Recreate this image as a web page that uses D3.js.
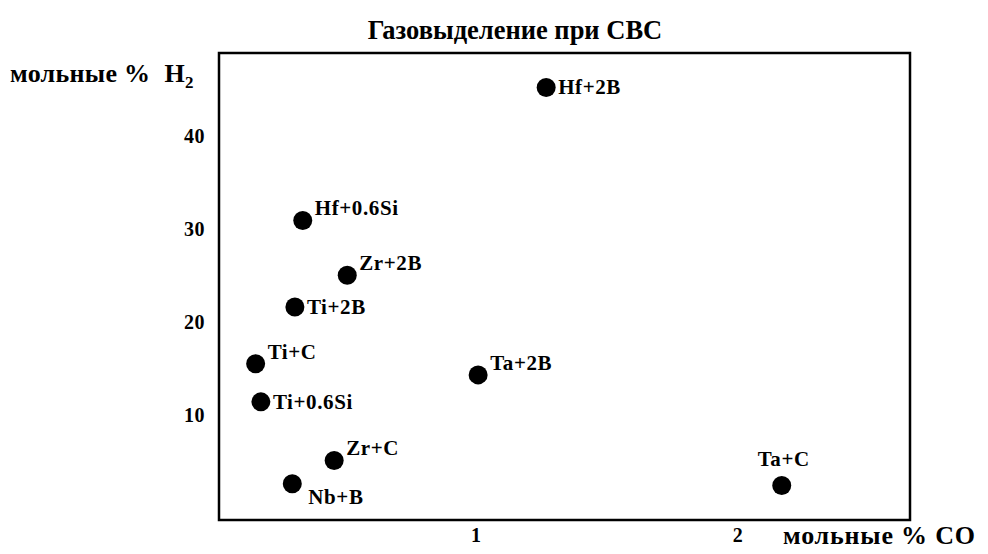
<!DOCTYPE html>
<html>
<head>
<meta charset="utf-8">
<script src="https://cdn.jsdelivr.net/npm/d3@7"></script>
<style>
  body { margin: 0; background: #fff; }
  text { font-family: "Liberation Serif", "Times New Roman", serif; font-weight: bold; fill: #000; }
</style>
</head>
<body>
<div id="chart"></div>
<script>
// data
var systems = ["Hf+2B", "Hf+0.6Si", "Zr+2B", "Ti+2B", "Ti+C", "Ta+2B", "Ti+0.6Si", "Zr+C", "Nb+B", "Ta+C"];
var coValues = [1.27, 0.34, 0.51, 0.31, 0.16, 1.01, 0.18, 0.46, 0.30, 2.17];
var h2Values = [45.2, 30.9, 25.0, 21.6, 15.5, 14.3, 11.4, 5.1, 2.6, 2.4];
// where the label sits relative to its dot
var labelSide = ["e", "ne", "ne", "e", "ne", "ne", "e", "ne", "se", "n"];
var xTicks = [1, 2];
var yTicks = [10, 20, 30, 40];

var width = 988, height = 554;
var margin = { top: 53, right: 78, bottom: 34, left: 219 };

var svg = d3.select("#chart").append("svg")
  .attr("width", width)
  .attr("height", height);

var xScale = d3.scaleLinear()
  .domain([0.02, 2.66])
  .range([margin.left, width - margin.right]);

var yScale = d3.scaleLinear()
  .domain([-1.3, 48.9])
  .range([height - margin.bottom, margin.top]);

var points = systems.map(function(s, i) {
  return { name: s, co: coValues[i], h2: h2Values[i], side: labelSide[i] };
});

// title
svg.append("text")
  .attr("x", 515)
  .attr("y", 39)
  .attr("text-anchor", "middle")
  .attr("font-size", "26.5px")
  .text("Газовыделение при СВС");

// frame
svg.append("rect")
  .attr("x", margin.left)
  .attr("y", margin.top)
  .attr("width", width - margin.left - margin.right)
  .attr("height", height - margin.top - margin.bottom)
  .attr("fill", "none")
  .attr("stroke", "#000")
  .attr("stroke-width", 2.5);

// axes (labels only, no tick marks)
var yAxis = svg.append("g")
  .attr("transform", "translate(" + (margin.left - 14) + ",0)")
  .call(d3.axisLeft(yScale).tickValues(yTicks).tickSize(0).tickPadding(0));
yAxis.select(".domain").remove();
yAxis.selectAll("text")
  .attr("font-size", "20px")
  .attr("letter-spacing", "0.5px")
  .attr("font-family", "Liberation Serif, serif")
  .attr("font-weight", "bold");

var xAxis = svg.append("g")
  .attr("transform", "translate(0," + (height - margin.bottom + 8) + ")")
  .call(d3.axisBottom(xScale).tickValues(xTicks).tickSize(0).tickPadding(0).tickFormat(d3.format("d")));
xAxis.select(".domain").remove();
xAxis.selectAll("text")
  .attr("font-size", "20px")
  .attr("font-family", "Liberation Serif, serif")
  .attr("font-weight", "bold");

// axis titles
var yTitle = svg.append("text")
  .attr("x", 10)
  .attr("y", 82)
  .attr("font-size", "26px")
  .attr("letter-spacing", "0.3px");
yTitle.append("tspan").text("мольные %");
yTitle.append("tspan").attr("dx", 14).text("H");
yTitle.append("tspan").attr("font-size", "17px").attr("dy", 6).text("2");

svg.append("text")
  .attr("x", 783)
  .attr("y", 544)
  .attr("font-size", "26px")
  .attr("letter-spacing", "0.8px")
  .text("мольные % СО");

// dots
svg.selectAll("circle")
  .data(points)
  .enter()
  .append("circle")
  .attr("cx", function(d) { return xScale(d.co); })
  .attr("cy", function(d) { return yScale(d.h2); })
  .attr("r", 9.5)
  .attr("fill", "#000");

// point labels
var offsets = {
  e:  { dx: 12, dy: 7, anchor: "start" },
  ne: { dx: 12, dy: -5, anchor: "start" },
  se: { dx: 16, dy: 20, anchor: "start" },
  n:  { dx: 2, dy: -20, anchor: "middle" }
};

svg.selectAll("text.lbl")
  .data(points)
  .enter()
  .append("text")
  .attr("class", "lbl")
  .attr("x", function(d) { return xScale(d.co) + offsets[d.side].dx; })
  .attr("y", function(d) { return yScale(d.h2) + offsets[d.side].dy; })
  .attr("text-anchor", function(d) { return offsets[d.side].anchor; })
  .attr("font-size", "21px")
  .attr("letter-spacing", "0.6px")
  .text(function(d) { return d.name; });
</script>
</body>
</html>
